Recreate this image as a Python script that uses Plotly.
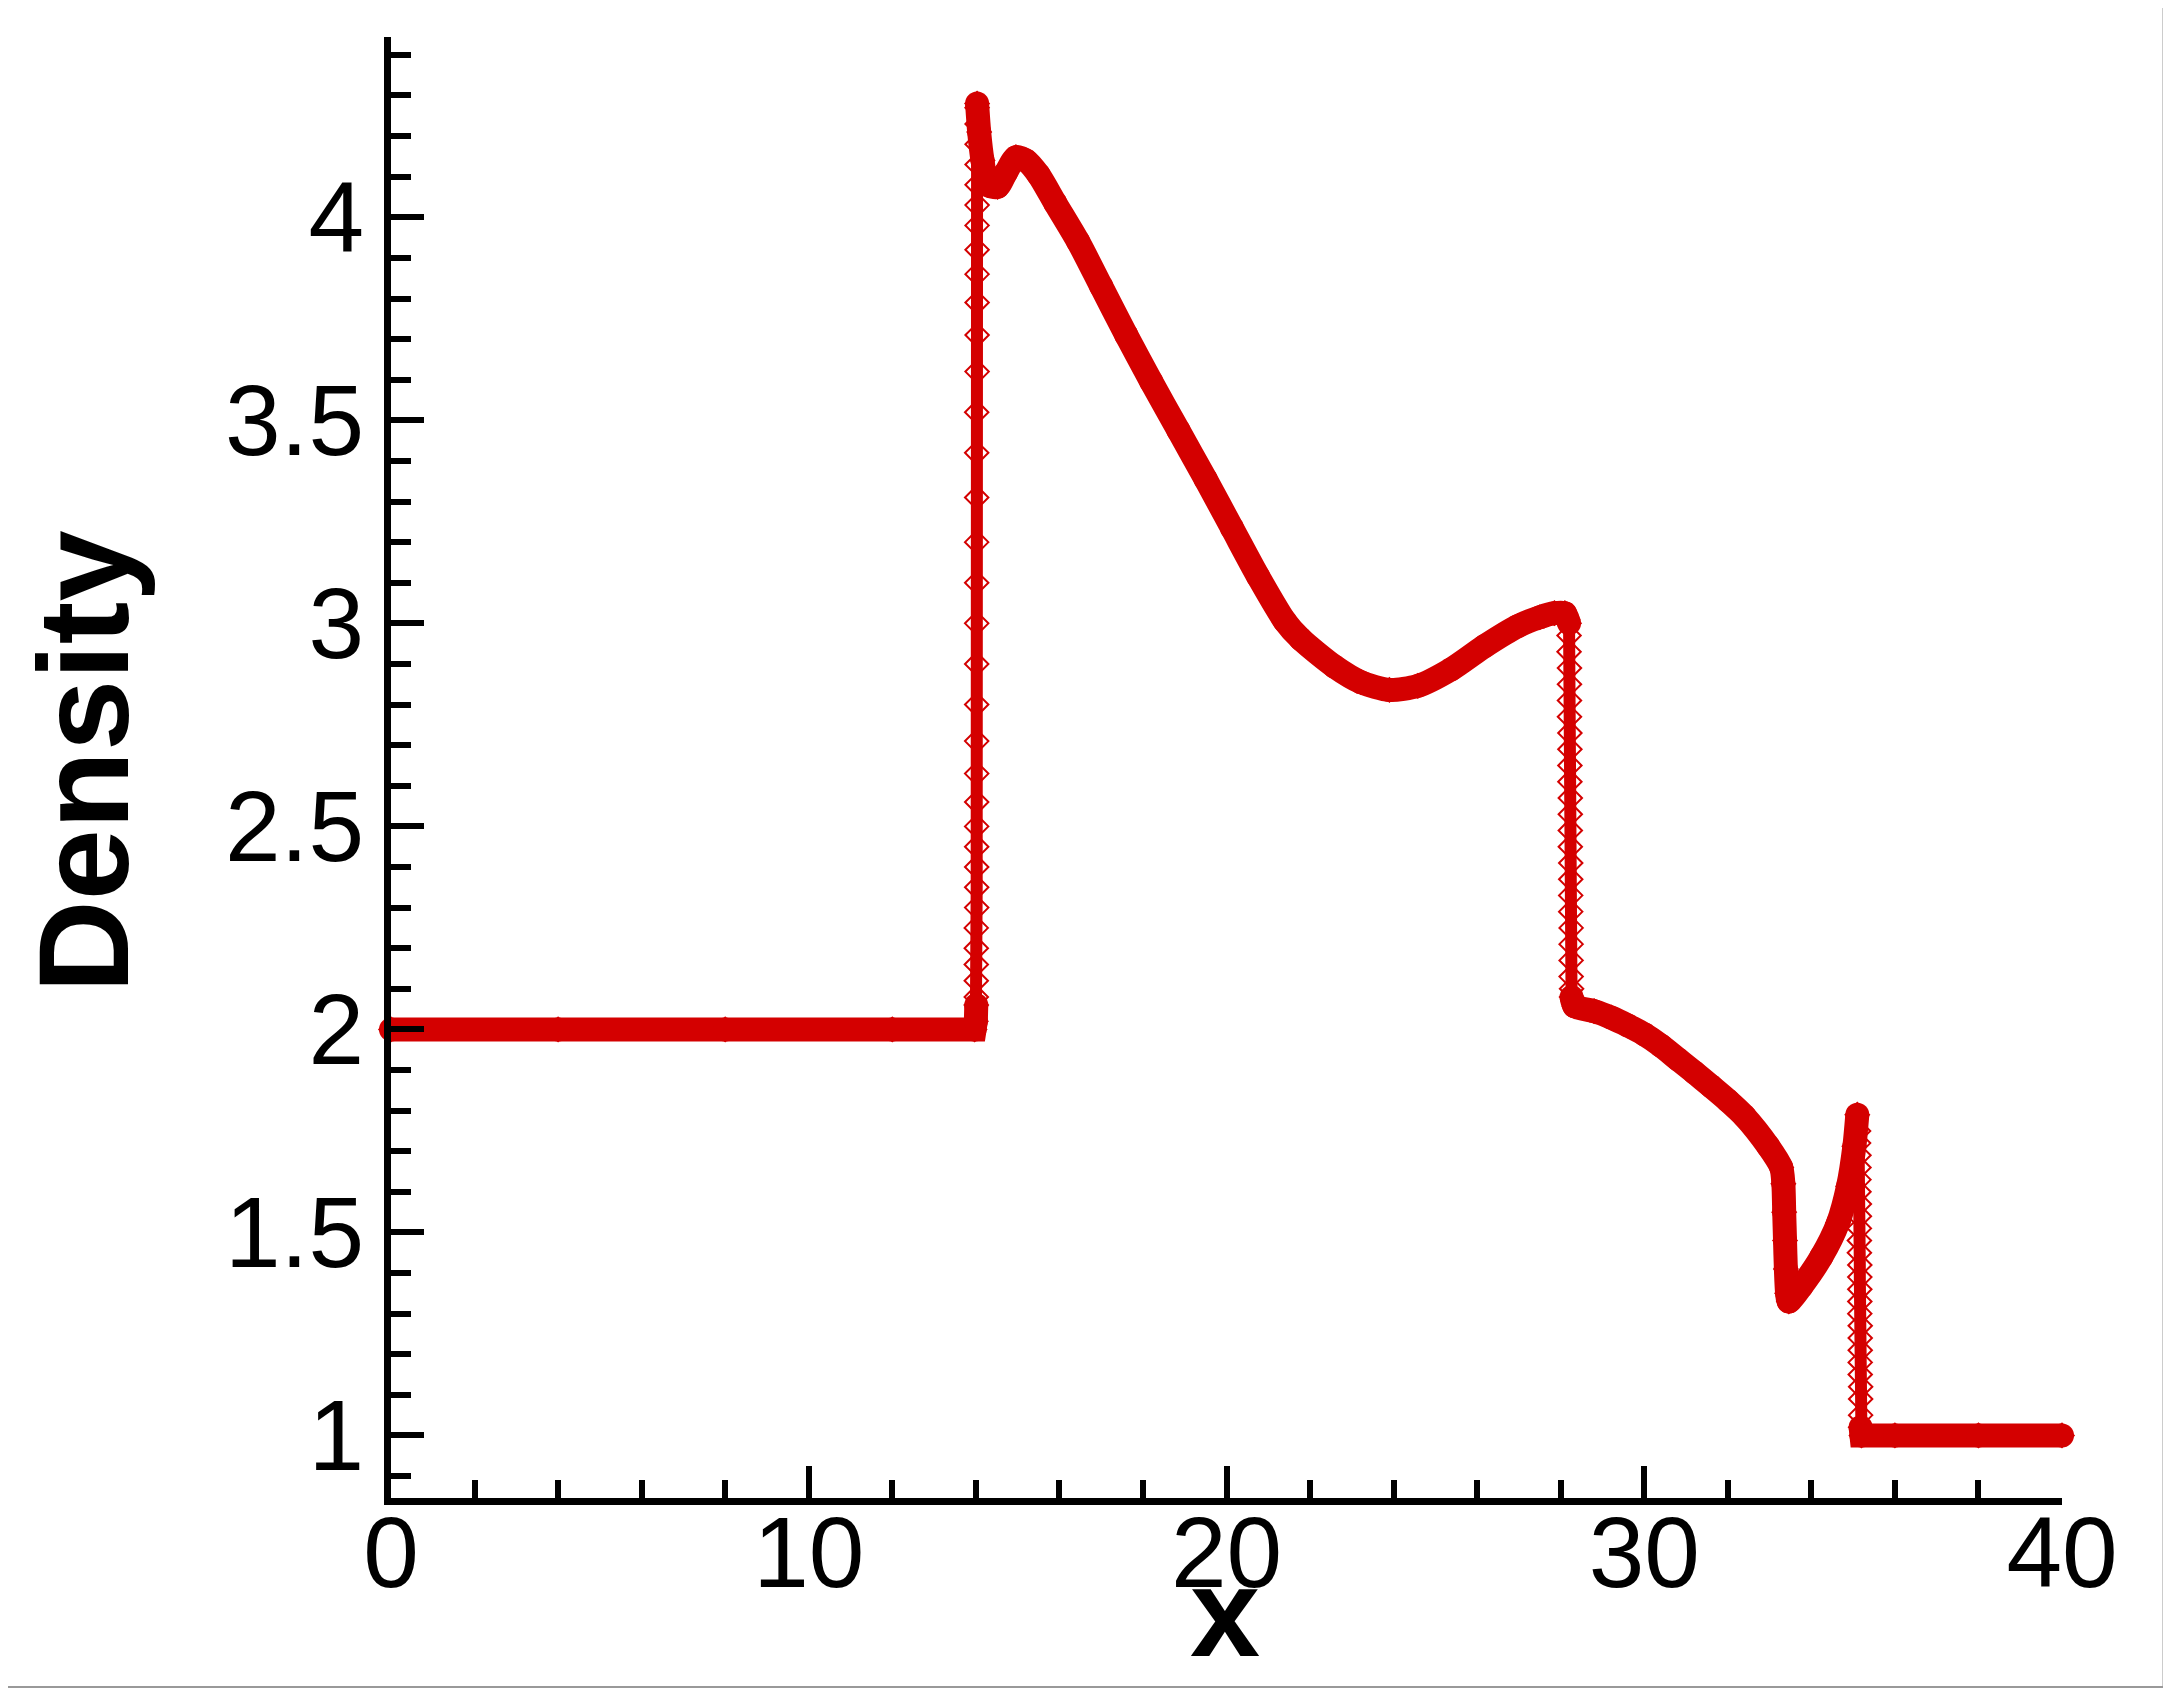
import plotly.graph_objects as go

RED = "#d40000"

# ---- data (density vs x) ----
flat_left_x = [0.0, 4.0, 8.0, 12.0, 13.97, 14.0, 14.01]
flat_left_y = [2.0, 2.0, 2.0, 2.0, 2.0, 2.02, 2.06]

jump1_x = [14.01, 14.01, 14.01, 14.01, 14.01, 14.02, 14.02, 14.02, 14.02, 14.02, 14.02, 14.02,
           14.02, 14.02, 14.02, 14.02, 14.02, 14.02, 14.02, 14.02, 14.02, 14.03, 14.03, 14.03,
           14.03, 14.03, 14.03, 14.03, 14.03, 14.03, 14.03, 14.03, 14.03]
jump1_y = [2.08, 2.12, 2.16, 2.2, 2.25, 2.3, 2.35, 2.4, 2.45, 2.5, 2.56, 2.63,
           2.71, 2.8, 2.9, 3.0, 3.1, 3.2, 3.31, 3.42, 3.52, 3.62, 3.71, 3.79,
           3.86, 3.92, 3.98, 4.03, 4.08, 4.13, 4.18, 4.23, 4.27]

hump_x = [14.03, 14.08, 14.16, 14.28, 14.52, 14.72, 14.96, 15.2, 15.5, 15.9, 16.45, 17.0,
          17.6, 18.2, 18.85, 19.5, 20.13, 20.76, 21.4, 21.78, 22.58, 23.22, 23.9, 24.58,
          25.38, 26.18, 26.97, 27.5, 27.85, 28.1, 28.2]
hump_y = [4.28, 4.21, 4.14, 4.08, 4.075, 4.11, 4.148, 4.14, 4.105, 4.035, 3.94, 3.83,
          3.71, 3.595, 3.475, 3.355, 3.235, 3.115, 3.005, 2.961, 2.894, 2.855, 2.836, 2.846,
          2.887, 2.944, 2.993, 3.015, 3.025, 3.025, 3.0]

drop2_x = [28.2, 28.2, 28.21, 28.21, 28.21, 28.21, 28.22, 28.22, 28.22, 28.22, 28.23, 28.23,
           28.23, 28.23, 28.24, 28.24, 28.24, 28.24, 28.25, 28.25, 28.25, 28.25, 28.26]
drop2_y = [2.97, 2.93, 2.89, 2.85, 2.81, 2.77, 2.73, 2.69, 2.65, 2.61, 2.57, 2.53,
           2.49, 2.45, 2.41, 2.37, 2.33, 2.29, 2.25, 2.21, 2.17, 2.13, 2.1]

mid_x = [28.26, 28.33, 28.8, 29.21, 29.6, 30.0, 30.4, 30.81, 31.2, 31.6, 32.0, 32.4,
         32.97, 33.28, 33.33, 33.35, 33.37, 33.39, 33.42, 33.46, 33.76, 34.24, 34.64,
         34.88, 35.03, 35.1]
mid_y = [2.08, 2.057, 2.045, 2.029, 2.01, 1.988, 1.96, 1.926, 1.894, 1.86, 1.825, 1.786,
         1.712, 1.66, 1.62, 1.55, 1.48, 1.41, 1.35, 1.33, 1.367, 1.44, 1.524,
         1.614, 1.712, 1.79]

drop4_x = [35.13, 35.13, 35.14, 35.14, 35.14, 35.14, 35.15, 35.15, 35.15, 35.15, 35.15, 35.16,
           35.16, 35.16, 35.16, 35.16, 35.17, 35.17, 35.17, 35.17, 35.17, 35.18, 35.18, 35.18]
drop4_y = [1.75, 1.72, 1.69, 1.66, 1.63, 1.6, 1.57, 1.54, 1.51, 1.48, 1.45, 1.42,
           1.39, 1.36, 1.33, 1.3, 1.27, 1.24, 1.21, 1.18, 1.15, 1.12, 1.09, 1.05]

flat_right_x = [35.18, 35.2, 36.0, 38.0, 40.0]
flat_right_y = [1.02, 1.0, 1.0, 1.0, 1.0]

x_ticks = [0, 10, 20, 30, 40]
x_tick_text = ["0", "10", "20", "30", "40"]
y_ticks = [1, 1.5, 2, 2.5, 3, 3.5, 4]
y_tick_text = ["1", "1.5", "2", "2.5", "3", "3.5", "4"]

# ---- figure ----
all_x = flat_left_x + jump1_x + hump_x + drop2_x + mid_x + drop4_x + flat_right_x
all_y = flat_left_y + jump1_y + hump_y + drop2_y + mid_y + drop4_y + flat_right_y

flat_x = flat_left_x + [None] + flat_right_x
flat_y = flat_left_y + [None] + flat_right_y
curve_x = hump_x + [None] + mid_x
curve_y = hump_y + [None] + mid_y

fig = go.Figure()
fig.add_trace(go.Scatter(
    x=all_x, y=all_y, mode="lines+markers",
    line=dict(color=RED, width=12),
    marker=dict(symbol="diamond-open", size=18, color=RED, line=dict(color=RED, width=2)),
    cliponaxis=False, showlegend=False, hoverinfo="skip"))
fig.add_trace(go.Scatter(
    x=flat_x, y=flat_y, mode="lines+markers", connectgaps=False,
    line=dict(color=RED, width=24),
    marker=dict(symbol="circle", size=24, color=RED, line=dict(width=0)),
    cliponaxis=False, showlegend=False, hoverinfo="skip"))
fig.add_trace(go.Scatter(
    x=curve_x, y=curve_y, mode="lines+markers", connectgaps=False,
    line=dict(color=RED, width=24, shape="spline", smoothing=0.7),
    marker=dict(symbol="circle", size=24, color=RED, line=dict(width=0)),
    cliponaxis=False, showlegend=False, hoverinfo="skip"))

# The page body has an 8px margin; the figure is sized so it ends at the window edge.
OFF = 8
W, H = 2171 - OFF, 1689 - OFF
# plot area in page pixels: left 391, right 2062, top 37, bottom 1498.5
L = 391 - OFF
R = W - (2062 - OFF)
T = 37 - OFF
B = H - (1498.5 - OFF)
pw, ph = W - L - R, H - T - B


def px2paper_x(px):
    return (px - OFF - L) / pw


def px2paper_y(py):
    return (H - B - (py - OFF)) / ph


fig.update_layout(
    width=W, height=H,
    margin=dict(l=L, r=R, t=T, b=B, pad=0),
    paper_bgcolor="white", plot_bgcolor="white",
    font=dict(family="Liberation Sans, Arial, sans-serif", color="black"),
    xaxis=dict(
        range=[0, 40], tickvals=x_ticks, ticktext=x_tick_text,
        showline=True, linecolor="black", linewidth=7,
        ticks="inside", ticklen=32, tickwidth=6, tickcolor="black",
        minor=dict(dtick=2, ticks="inside", ticklen=18, tickwidth=6, tickcolor="black", showgrid=False),
        showgrid=False, zeroline=False, tickfont=dict(size=100, color="black"),
        ticklabelstandoff=-38,
    ),
    yaxis=dict(
        range=[0.846, 4.444], tickvals=y_ticks, ticktext=y_tick_text,
        showline=True, linecolor="black", linewidth=7,
        ticks="inside", ticklen=33, tickwidth=6, tickcolor="black",
        minor=dict(dtick=0.1, tick0=0, ticks="inside", ticklen=20, tickwidth=6, tickcolor="black", showgrid=False),
        showgrid=False, zeroline=False, tickfont=dict(size=100, color="black"),
        ticklabelstandoff=0,
    ),
    annotations=[
        dict(text="<b>Density</b>", textangle=-90, xref="paper", yref="paper",
             x=px2paper_x(84), y=px2paper_y(762), xanchor="center", yanchor="middle",
             showarrow=False, font=dict(size=128, color="black")),
        dict(text="<b>x</b>", xref="paper", yref="paper",
             x=px2paper_x(1225), y=px2paper_y(1613), xanchor="center", yanchor="middle",
             showarrow=False, font=dict(size=126, color="black")),
    ],
    shapes=[
        dict(type="line", xref="paper", yref="paper",
             x0=px2paper_x(2164), x1=px2paper_x(2164), y0=px2paper_y(8), y1=px2paper_y(1688.5),
             line=dict(color="#999999", width=3)),
        dict(type="line", xref="paper", yref="paper",
             x0=px2paper_x(8), x1=px2paper_x(2170), y0=px2paper_y(1687.5), y1=px2paper_y(1687.5),
             line=dict(color="#999999", width=2)),
    ],
)

fig.write_html("out.html")
